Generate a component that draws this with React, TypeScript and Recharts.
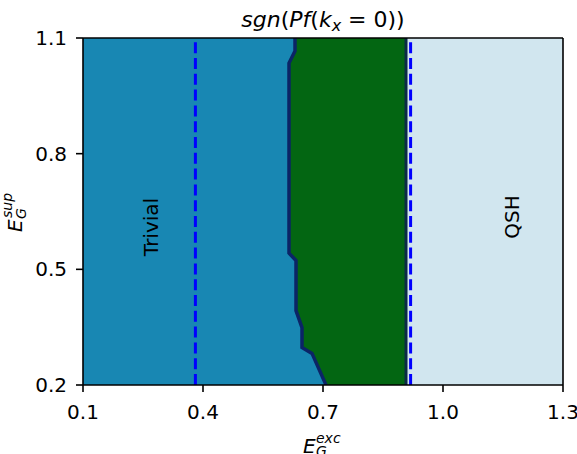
import { ComposedChart, Area, XAxis, YAxis, ReferenceLine } from "recharts";

const X_TICKS = [0.1, 0.4, 0.7, 1.0, 1.3];
const Y_TICKS = [0.2, 0.5, 0.8, 1.1];

// E_G^sup levels where the trivial / green boundary bends (top to bottom)
const SUP_LEVELS = [1.1, 1.066, 1.035, 0.542, 0.523, 0.393, 0.349, 0.297, 0.282, 0.2];
// E_G^exc of that boundary at each level
const TRIVIAL_EDGE = [0.63, 0.63, 0.615, 0.615, 0.6325, 0.6325, 0.6475, 0.6475, 0.6725, 0.7075];
// green / QSH boundary
const GAP_EDGE = [0.9075, 0.9075, 0.9075, 0.9075, 0.9075, 0.9075, 0.9075, 0.9075, 0.9075, 0.9075];
// right end of the map
const EXC_MAX = [1.3, 1.3, 1.3, 1.3, 1.3, 1.3, 1.3, 1.3, 1.3, 1.3];
// dashed reference lines
const DASHED_X = [0.381, 0.919];

const data = SUP_LEVELS.map((y, i) => ({
  y,
  trivial: TRIVIAL_EDGE[i],
  gap: GAP_EDGE[i],
  qsh: EXC_MAX[i],
}));

const FONT = "DejaVu Sans, sans-serif";
const tickStyle = { fill: "#000", fontSize: 20, fontFamily: FONT };

export default function App() {
  return (
    <div style={{ position: "absolute", left: 0, top: 0, width: 577, height: 454, background: "#fff" }}>
      <ComposedChart
        layout="vertical"
        width={577}
        height={454}
        data={data}
        margin={{ top: 38, right: 14, bottom: 0, left: 0 }}
      >
        <XAxis
          type="number"
          domain={[0.1, 1.3]}
          allowDataOverflow
          ticks={X_TICKS}
          tickFormatter={(v) => v.toFixed(1)}
          tick={tickStyle}
          tickSize={7}
          tickMargin={13}
          height={69}
          stroke="#000"
          strokeWidth={1.6}
        />
        <YAxis
          type="number"
          dataKey="y"
          domain={[0.2, 1.1]}
          allowDataOverflow
          reversed
          ticks={Y_TICKS}
          tickFormatter={(v) => v.toFixed(1)}
          tick={tickStyle}
          tickSize={7}
          tickMargin={9}
          width={83}
          stroke="#000"
          strokeWidth={1.6}
        />
        <Area dataKey="qsh" type="linear" baseValue="dataMin" fill="#d1e6ef" fillOpacity={1} stroke="none" isAnimationActive={false} />
        <Area dataKey="gap" type="linear" baseValue="dataMin" fill="#036612" fillOpacity={1} stroke="#0b2a45" strokeWidth={3} isAnimationActive={false} />
        <Area dataKey="trivial" type="linear" baseValue="dataMin" fill="#1887b3" fillOpacity={1} stroke="#0b2466" strokeWidth={3.5} isAnimationActive={false} />
        {DASHED_X.map((x) => (
          <ReferenceLine key={x} x={x} stroke="#0000ff" strokeWidth={3} strokeDasharray="11 4.8" />
        ))}
        <ReferenceLine y={1.1} stroke="#000" strokeWidth={1.6} />
        <ReferenceLine x={1.3} stroke="#000" strokeWidth={1.6} />
      </ComposedChart>

      {/* titles and region labels */}
      <svg width={577} height={454} style={{ position: "absolute", left: 0, top: 0, pointerEvents: "none" }}>
        <text x={323} y={27} textAnchor="middle" fontFamily={FONT} fontSize={22}>
          <tspan fontStyle="italic">sgn</tspan>
          <tspan>(</tspan>
          <tspan fontStyle="italic">Pf</tspan>
          <tspan>(</tspan>
          <tspan fontStyle="italic">k</tspan>
          <tspan fontStyle="italic" fontSize={16} dy={4}>x</tspan>
          <tspan dy={-4}> = 0))</tspan>
        </text>

        <g fontFamily={FONT} fontStyle="italic">
          <text x={303} y={453} fontSize={20}>E</text>
          <text x={316} y={456} fontSize={14}>G</text>
          <text x={316} y={443} fontSize={14}>exc</text>
        </g>

        <g transform="translate(22, 232) rotate(-90)" fontFamily={FONT} fontStyle="italic">
          <text x={0} y={0} fontSize={20}>E</text>
          <text x={13} y={4} fontSize={14}>G</text>
          <text x={14} y={-10} fontSize={14}>sup</text>
        </g>

        <text
          transform="translate(151, 227) rotate(-90)"
          textAnchor="middle"
          dominantBaseline="central"
          fontFamily={FONT}
          fontSize={20}
        >
          Trivial
        </text>
        <text
          transform="translate(512, 217) rotate(-90)"
          textAnchor="middle"
          dominantBaseline="central"
          fontFamily={FONT}
          fontSize={20}
        >
          QSH
        </text>
      </svg>
    </div>
  );
}
